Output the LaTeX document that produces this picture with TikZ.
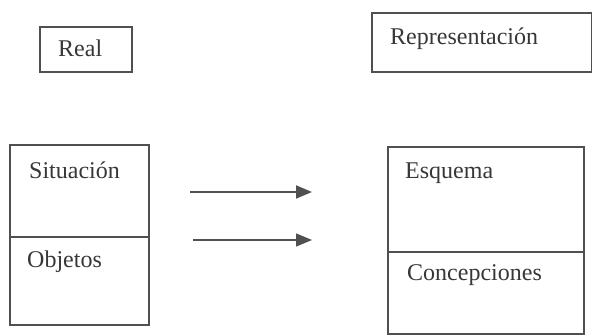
\documentclass[tikz,border=0pt]{standalone}
\usepackage{fontspec}
\setmainfont{Liberation Serif}
\usetikzlibrary{arrows.meta, positioning}
\definecolor{SCline}{RGB}{80,80,80}
\definecolor{SCtext}{RGB}{55,55,55}

\tikzset{
  box/.style={draw=SCline, line width=1.8pt, inner sep=0pt, outer sep=0pt},
  tag/.style={anchor=north west, inner sep=0pt, text=SCtext, font=\fontsize{24}{28}\selectfont},
  flow/.style={-{Triangle[length=16pt, width=13pt]}, draw=SCline, line width=1.8pt},
}

\begin{document}
\begin{tikzpicture}[x=1pt, y=-1pt]
  \useasboundingbox (0,0) rectangle (592,336);

  \node[box, minimum width=92pt, minimum height=45pt] (real) at (86,49.5) {};
  \node[box, minimum width=220pt, minimum height=59pt] (repr) at (482,42.5) {};
  \node[tag] (realtxt) at ([shift={(18pt,-13pt)}]real.north west) {Real};
  \node[tag] (reprtxt) at ([shift={(18pt,-15pt)}]repr.north west) {Representación};

  \node[box, minimum width=139pt, minimum height=92pt] (sit) at (79.5,191) {};
  \node[box, minimum width=139pt, minimum height=88pt, below=0pt of sit] (obj) {};
  \node[tag] (sittxt) at ([shift={(19pt,-17pt)}]sit.north west) {Situación};
  \node[tag] (objtxt) at ([shift={(17pt,-14pt)}]obj.north west) {Objetos};

  \node[box, minimum width=196pt, minimum height=105pt] (esq) at (486,199.5) {};
  \node[box, minimum width=196pt, minimum height=82pt, below=0pt of esq] (conc) {};
  \node[tag] (esqtxt) at ([shift={(17pt,-16pt)}]esq.north west) {Esquema};
  \node[tag] (conctxt) at ([shift={(19pt,-12pt)}]conc.north west) {Concepciones};

  \coordinate (a1s) at (190,192);
  \coordinate (a1e) at (312,192);
  \coordinate (a2s) at (193,240);
  \coordinate (a2e) at (312,240);
  \draw[flow] (a1s) -- (a1e);
  \draw[flow, line width=1.4pt] (a2s) -- (a2e);
\end{tikzpicture}
\end{document}
